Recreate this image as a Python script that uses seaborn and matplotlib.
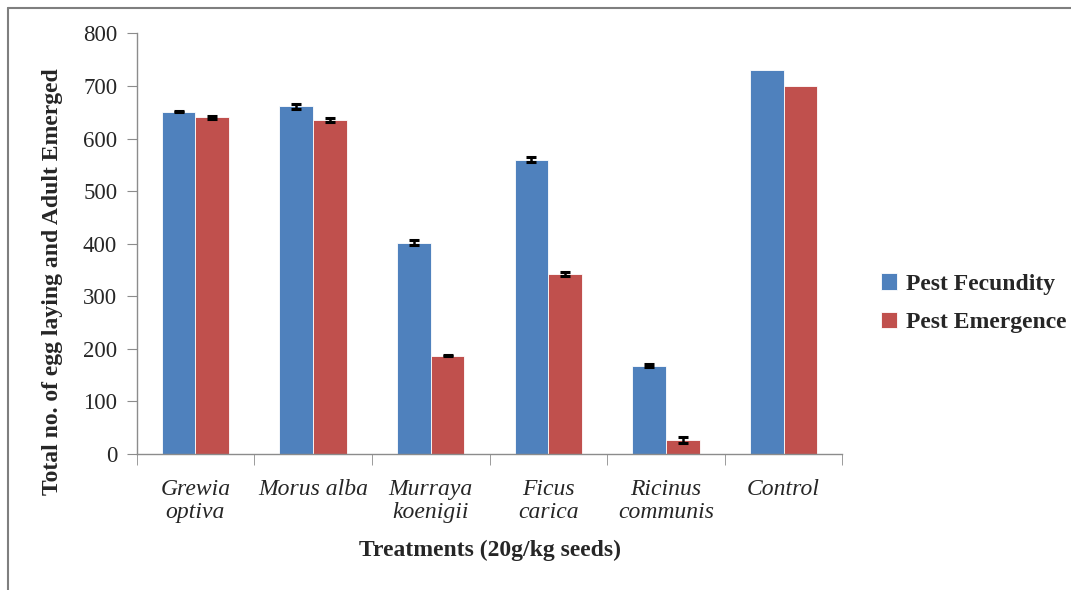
import numpy as np
import pandas as pd
import seaborn as sns
import matplotlib.pyplot as plt
from matplotlib.lines import Line2D
from matplotlib.ticker import FixedLocator

# Data
treatments = ["Grewia\noptiva", "Morus alba", "Murraya\nkoenigii",
              "Ficus\ncarica", "Ricinus\ncommunis", "Control"]
fecundity = [651, 661, 402, 560, 168, 730]
emergence = [640, 635, 187, 343, 27, 700]
fecundity_err = [1.5, 4.5, 4.5, 5.5, 3.0, 0]
emergence_err = [3.5, 4.5, 1.5, 4.0, 5.5, 0]
series_names = ["Pest Fecundity", "Pest Emergence"]

df = pd.DataFrame({
    "treatment": treatments * 2,
    "count": fecundity + emergence,
    "series": [series_names[0]] * len(treatments) + [series_names[1]] * len(treatments),
})

sns.set_style("white")
plt.rcParams["font.family"] = ["Liberation Serif", "DejaVu Serif"]

fig = plt.figure(figsize=(10.71, 5.90), dpi=100)
ax = fig.add_axes([0.1276, 0.2305, 0.6589, 0.713])

sns.barplot(
    data=df, x="treatment", y="count", hue="series",
    palette=["#4F81BD", "#C0504D"], saturation=1,
    width=0.574, gap=0, errorbar=None, ax=ax,
    edgecolor="white", linewidth=0.6,
)

# error bars on top of the bars, taken from the bar patches
for container, errs in zip(ax.containers, [fecundity_err, emergence_err]):
    xs, hs, es = [], [], []
    for patch, e in zip(container.patches, errs):
        if e > 0:
            xs.append(patch.get_x() + patch.get_width() / 2)
            hs.append(patch.get_height())
            es.append(e)
    ax.errorbar(xs, hs, yerr=es, fmt="none", ecolor="black",
                elinewidth=1.8, capsize=3.8, capthick=2.2, zorder=5)

ax.set_ylim(0, 800)
ax.set_yticks(np.arange(0, 801, 100))
ax.set_xlim(-0.5, len(treatments) - 0.5)

grid_gray = "#8c8c8c"
for side in ["top", "right"]:
    ax.spines[side].set_visible(False)
for side in ["left", "bottom"]:
    ax.spines[side].set_color(grid_gray)
    ax.spines[side].set_linewidth(1.0)

ax.tick_params(axis="y", which="major", direction="out", length=7,
               color=grid_gray, labelsize=16.5, pad=7, left=True)
ax.tick_params(axis="x", which="major", length=0, pad=18)
ax.xaxis.set_minor_locator(FixedLocator(np.arange(-0.5, len(treatments), 1.0)))
ax.tick_params(axis="x", which="minor", direction="out", length=8,
               color=grid_gray, bottom=True)

ax.set_xticks(range(len(treatments)))
ax.set_xticklabels(treatments, fontsize=17, style="italic", linespacing=1.12,
                   va="top")

ax.set_xlabel("Treatments (20g/kg seeds)", fontsize=17, fontweight="bold",
              labelpad=12)
ax.set_ylabel("Total no. of egg laying and Adult Emerged", fontsize=17,
              fontweight="bold")
ax.yaxis.set_label_coords(-0.104, 0.409)

ax.legend(loc="center left", bbox_to_anchor=(0.8225, 0.486),
          bbox_transform=fig.transFigure, frameon=False,
          prop={"size": 17, "weight": "bold"},
          handlelength=0.68, handleheight=0.68, handletextpad=0.4,
          labelspacing=0.72, borderpad=0, borderaxespad=0)

# outer frame lines seen at the top and left of the picture
frame_gray = "#7f7f7f"
fig.add_artist(Line2D([0.0075, 0.0075], [0.0, 0.9864], transform=fig.transFigure,
                      color=frame_gray, lw=1.5))
fig.add_artist(Line2D([0.0075, 1.0], [0.9864, 0.9864], transform=fig.transFigure,
                      color=frame_gray, lw=1.5))

fig.savefig("out.png", dpi=100)
